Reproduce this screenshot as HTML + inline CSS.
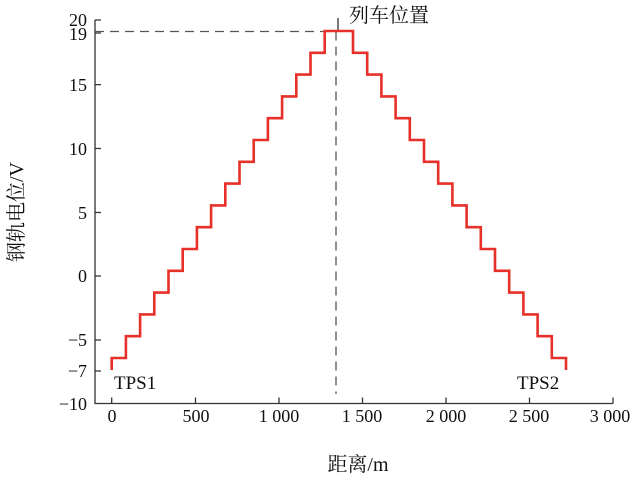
<!DOCTYPE html>
<html><head><meta charset="utf-8"><style>
body{margin:0;background:#fff}
text{font-family:"Liberation Serif","Noto Serif CJK SC",serif;fill:#111}
</style></head><body>
<svg width="634" height="478" viewBox="0 0 634 478" xmlns="http://www.w3.org/2000/svg">
<g stroke="#333" stroke-width="1.3" fill="none">
<path d="M95,20V403.5H613"/>
<path d="M95,20h6M95,33h6M95,84.6h6M95,148.5h6M95,212.5h6M95,276h6M95,340h6M95,371h6"/>
<path d="M111.7,403.5v-6M195.5,403.5v-6M279,403.5v-6M362.5,403.5v-6M446,403.5v-6M529.5,403.5v-6M613,403.5v-6"/>
</g>
<g stroke="#555" stroke-width="1.3" fill="none" stroke-dasharray="9,6">
<path d="M95,31.5H336"/>
<path d="M336,31.5V394"/>
</g>
<path d="M338,18V31" stroke="#333" stroke-width="1.3"/>
<path id="st" fill="none" stroke="#e8302a" stroke-width="2.6" d=""/>
<g font-size="18" text-anchor="end">
<text x="87" y="26">20</text><text x="87" y="40">19</text><text x="87" y="91">15</text>
<text x="87" y="155">10</text><text x="87" y="219">5</text><text x="87" y="282">0</text>
<text x="87" y="346">−5</text><text x="87" y="377">−7</text><text x="87" y="410">−10</text>
</g>
<g font-size="18" text-anchor="middle">
<text x="112" y="422">0</text><text x="196" y="422">500</text><text x="279" y="422">1 000</text>
<text x="362" y="422">1 500</text><text x="446" y="422">2 000</text><text x="529" y="422">2 500</text>
<text x="610" y="422">3 000</text>
</g>
<text x="114" y="389" font-size="19">TPS1</text>
<text x="517" y="389" font-size="19">TPS2</text>
<text x="349" y="22" font-size="20">列车位置</text>
<text x="358" y="471" font-size="20" text-anchor="middle">距离/m</text>
<text transform="translate(23,212) rotate(-90)" font-size="20" text-anchor="middle">钢轨电位/V</text>
<script>
var w=14.2,h=21.8,x=111.7,d="M111.7,370V358";
for(var k=0;k<15;k++){x+=w;d+="H"+x.toFixed(1)+"V"+(358-(k+1)*h).toFixed(1);}
x=353;d+="H"+x;
for(var k=14;k>=0;k--){d+="V"+(358-k*h).toFixed(1);x+=w;d+="H"+x.toFixed(1);}
d+="V370";
document.getElementById("st").setAttribute("d",d);
</script>
</svg>
</body></html>
